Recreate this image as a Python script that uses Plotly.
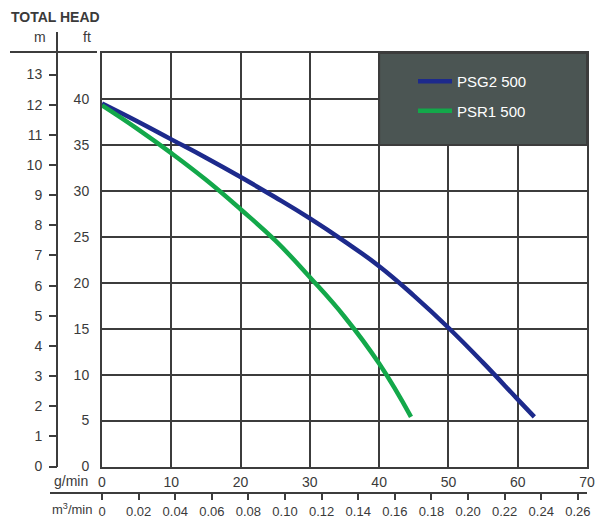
import plotly.graph_objects as go

# ---- data ----
psg2_flow = [0, 5, 10, 15, 20, 25, 30, 35, 40, 45, 50, 55, 60, 62.4]
psg2_head = [39.5, 37.6, 35.6, 33.6, 31.5, 29.3, 27.0, 24.5, 21.8, 18.6, 15.1, 11.3, 7.3, 5.4]
psr1_flow = [0, 5, 10, 15, 20, 25, 30, 35, 40, 44.6]
psr1_head = [39.3, 36.8, 34.1, 31.2, 28.0, 24.6, 20.6, 16.3, 11.2, 5.4]

gpm_ticks = [0, 10, 20, 30, 40, 50, 60, 70]
ft_ticks = [0, 5, 10, 15, 20, 25, 30, 35, 40]
m_ticks = list(range(0, 14))
m3_ticks = [0, 0.02, 0.04, 0.06, 0.08, 0.10, 0.12, 0.14, 0.16, 0.18, 0.20, 0.22, 0.24, 0.26]
m3_labels = ["0", "0.02", "0.04", "0.06", "0.08", "0.10", "0.12", "0.14", "0.16",
             "0.18", "0.20", "0.22", "0.24", "0.26"]

GPM_MAX = 70
FT_MAX = 45
GAL_TO_M3 = 0.003785411784
FT_PER_M = 3.28084

W, H = 595, 519
def px(x):
    return x / W
def py(y):
    return 1 - y / H

GRID = "#3c3c3c"
TXT = "#3a3a3a"
FONT = "Liberation Sans, Arial, sans-serif"
BLUE = "#1d2a8c"
GREEN = "#13a84a"

fig = go.Figure()
fig.add_trace(go.Scatter(x=psg2_flow, y=psg2_head, mode="lines", name="PSG2 500",
                         line=dict(color=BLUE, width=4.5, shape="spline", smoothing=1.3),
                         legendgroup="a"))
fig.add_trace(go.Scatter(x=psr1_flow, y=psr1_head, mode="lines", name="PSR1 500",
                         line=dict(color=GREEN, width=4.5, shape="spline", smoothing=1.3),
                         legendgroup="b"))
# helper traces so the secondary (metric) axes get drawn
fig.add_trace(go.Scatter(x=[m3_ticks[0]], y=[ft_ticks[0]], xaxis="x2", yaxis="y",
                         mode="markers", marker=dict(opacity=0), showlegend=False,
                         hoverinfo="skip"))
fig.add_trace(go.Scatter(x=[gpm_ticks[0]], y=[m_ticks[0]], xaxis="x", yaxis="y2",
                         mode="markers", marker=dict(opacity=0), showlegend=False,
                         hoverinfo="skip"))

tickfont = dict(family=FONT, size=14, color=TXT)

fig.update_layout(
    width=W, height=H,
    margin=dict(l=0, r=0, t=0, b=0, autoexpand=False),
    paper_bgcolor="white", plot_bgcolor="white",
    font=dict(family=FONT, size=14, color=TXT),
    xaxis=dict(domain=[px(102), px(587)], range=[0, GPM_MAX], tickvals=gpm_ticks,
               showgrid=True, gridcolor=GRID, gridwidth=2, zeroline=False,
               showline=True, linecolor=GRID, linewidth=2, mirror=True,
               ticks="", tickfont=tickfont, ticklabelstandoff=2, automargin=False,
               ticklabeloverflow="allow"),
    yaxis=dict(domain=[py(466.5), py(53)], range=[0, FT_MAX], tickvals=ft_ticks,
               showgrid=True, gridcolor=GRID, gridwidth=2, zeroline=False,
               showline=True, linecolor=GRID, linewidth=2, mirror=True,
               ticks="", tickfont=tickfont, ticklabelstandoff=8, automargin=False),
    yaxis2=dict(overlaying="y", anchor="free", position=px(57), side="left",
                range=[0, FT_MAX / FT_PER_M], tickvals=m_ticks,
                showgrid=False, zeroline=False, showline=False,
                ticks="outside", ticklen=8, tickwidth=2, tickcolor=GRID,
                tickfont=tickfont, ticklabelstandoff=4, automargin=False),
    xaxis2=dict(overlaying="x", anchor="free", position=py(493), side="bottom",
                range=[0, GPM_MAX * GAL_TO_M3], tickvals=m3_ticks, ticktext=m3_labels,
                showgrid=False, zeroline=False, showline=False,
                ticks="outside", ticklen=6, tickwidth=2, tickcolor=GRID,
                tickfont=dict(family=FONT, size=13, color=TXT), automargin=False,
                ticklabeloverflow="allow"),
    showlegend=True,
    legend=dict(x=px(413), y=py(65), xanchor="left", yanchor="top",
                bgcolor="rgba(0,0,0,0)", borderwidth=0, itemwidth=34,
                font=dict(family=FONT, size=15, color="white"),
                traceorder="grouped", tracegroupgap=7),
    shapes=[
        dict(type="rect", xref="x", yref="y", x0=40, x1=70, y0=35, y1=45,
             fillcolor="#4b5553", line=dict(color=GRID, width=2), layer="above"),
        dict(type="line", xref="paper", yref="paper", x0=px(10), x1=px(97),
             y0=py(52), y1=py(52), line=dict(color=GRID, width=2)),
        dict(type="line", xref="paper", yref="paper", x0=px(57), x1=px(57),
             y0=py(32), y1=py(467), line=dict(color=GRID, width=2)),
        dict(type="line", xref="paper", yref="paper", x0=px(50), x1=px(587),
             y0=py(493), y1=py(493), line=dict(color=GRID, width=2)),
    ],
    annotations=[
        dict(text="<b>TOTAL HEAD</b>", xref="paper", yref="paper", x=px(9), y=py(17),
             xanchor="left", yanchor="middle", showarrow=False,
             font=dict(family=FONT, size=14, color=TXT)),
        dict(text="m", xref="paper", yref="paper", x=px(40), y=py(37),
             xanchor="center", yanchor="middle", showarrow=False,
             font=dict(family=FONT, size=14, color=TXT)),
        dict(text="ft", xref="paper", yref="paper", x=px(87), y=py(37),
             xanchor="center", yanchor="middle", showarrow=False,
             font=dict(family=FONT, size=14, color=TXT)),
        dict(text="g/min", xref="paper", yref="paper", x=px(90), y=py(481),
             xanchor="right", yanchor="middle", showarrow=False,
             font=dict(family=FONT, size=14, color=TXT)),
        dict(text="m<sup>3</sup>/min", xref="paper", yref="paper", x=px(94), y=py(509),
             xanchor="right", yanchor="middle", showarrow=False,
             font=dict(family=FONT, size=13, color=TXT)),
    ],
)

fig.write_html(
    "out.html",
    config={"displayModeBar": False},
    post_script="document.body.style.margin='0';document.body.style.overflow='hidden';",
)
